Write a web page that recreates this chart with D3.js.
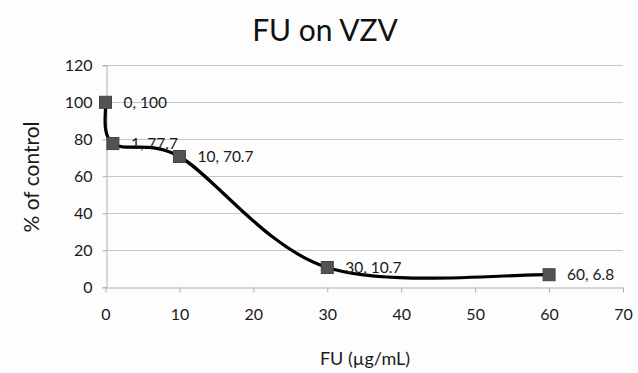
<!DOCTYPE html>
<html>
<head>
<meta charset="utf-8">
<script src="https://cdn.jsdelivr.net/npm/d3@7"></script>
<style>
  html, body { margin: 0; padding: 0; background: #fdfdfd; }
  svg { display: block; font-family: Lato, "Open Sans", sans-serif; }
</style>
</head>
<body>
<svg id="chart" width="638" height="373"></svg>
<script>
// FU concentration (µg/mL) and VZV response as % of control
const concentrations = [0, 1, 10, 30, 60];
const percentControl = [100, 77.7, 70.7, 10.7, 6.8];
const xTicks = [0, 10, 20, 30, 40, 50, 60, 70];
const yTicks = [0, 20, 40, 60, 80, 100, 120];

const data = concentrations.map((c, i) => ({ x: c, y: percentControl[i] }));

// Spreadsheet-style smoothing: cubic Béziers with 1/6 tangents,
// each tangent capped at half the length of its segment.
function SmoothCurve(context) { this._context = context; }
SmoothCurve.prototype = {
  areaStart() {}, areaEnd() {},
  lineStart() { this._pts = []; },
  point(x, y) { this._pts.push([+x, +y]); },
  lineEnd() {
    const p = this._pts, c = this._context, n = p.length;
    if (!n) return;
    c.moveTo(p[0][0], p[0][1]);
    const tangent = (a, b, limit) => {
      let tx = (b[0] - a[0]) / 6, ty = (b[1] - a[1]) / 6;
      const len = Math.hypot(tx, ty);
      if (len > limit && len > 0) { tx *= limit / len; ty *= limit / len; }
      return [tx, ty];
    };
    for (let i = 0; i < n - 1; i++) {
      const p0 = p[Math.max(i - 1, 0)], p1 = p[i], p2 = p[i + 1], p3 = p[Math.min(i + 2, n - 1)];
      const half = Math.hypot(p2[0] - p1[0], p2[1] - p1[1]) / 2;
      const t1 = tangent(p0, p2, half), t2 = tangent(p1, p3, half);
      c.bezierCurveTo(p1[0] + t1[0], p1[1] + t1[1], p2[0] - t2[0], p2[1] - t2[1], p2[0], p2[1]);
    }
  }
};
const curveSmooth = ctx => new SmoothCurve(ctx);

const svg = d3.select("#chart");
const margin = { left: 105.5, right: 15, top: 65.3, bottom: 85.7 };
const W = 638, H = 373;

const x = d3.scaleLinear().domain([0, 70]).range([margin.left, W - margin.right]);
const y = d3.scaleLinear().domain([0, 120]).range([H - margin.bottom, margin.top]);

// Title
svg.append("text")
  .attr("x", 325).attr("y", 41)
  .attr("text-anchor", "middle")
  .attr("font-size", 30)
  .attr("fill", "#111")
  .text("FU on VZV");

// Horizontal gridlines
svg.append("g")
  .selectAll("line")
  .data(yTicks.filter(d => d > 0))
  .join("line")
  .attr("x1", x(0)).attr("x2", x(70))
  .attr("y1", d => Math.round(y(d)) + 0.5).attr("y2", d => Math.round(y(d)) + 0.5)
  .attr("stroke", "#c6c6c6").attr("stroke-width", 1);

// Y axis
const yAxis = svg.append("g")
  .attr("transform", `translate(${Math.round(x(0)) + 0.5},0)`)
  .call(d3.axisLeft(y).tickValues(yTicks).tickSize(4).tickPadding(10).tickFormat(d3.format("d")));
yAxis.select(".domain").attr("stroke", "#b0b0b0");
yAxis.selectAll(".tick line").attr("stroke", "#b0b0b0");
yAxis.selectAll(".tick text").attr("font-size", 16).attr("fill", "#1a1a1a").attr("font-family", "Lato, sans-serif");

// X axis
const xAxis = svg.append("g")
  .attr("transform", `translate(0,${Math.round(y(0)) + 0.5})`)
  .call(d3.axisBottom(x).tickValues(xTicks).tickSize(5).tickSizeOuter(0).tickPadding(16).tickFormat(d3.format("d")));
xAxis.select(".domain").attr("stroke", "#b0b0b0");
xAxis.selectAll(".tick line").attr("stroke", "#b0b0b0");
xAxis.selectAll(".tick text").attr("font-size", 16).attr("fill", "#1a1a1a").attr("font-family", "Lato, sans-serif");

// Axis titles
svg.append("text")
  .attr("x", 365).attr("y", 365)
  .attr("text-anchor", "middle")
  .attr("font-size", 18)
  .attr("fill", "#1a1a1a")
  .text("FU (µg/mL)");

svg.append("text")
  .attr("transform", "translate(39,177) rotate(-90)")
  .attr("text-anchor", "middle")
  .attr("font-size", 21)
  .attr("fill", "#1a1a1a")
  .text("% of control");

// Smoothed response curve
const line = d3.line()
  .x(d => x(d.x)).y(d => y(d.y))
  .curve(curveSmooth);

svg.append("path")
  .datum(data)
  .attr("d", line)
  .attr("fill", "none")
  .attr("stroke", "#000")
  .attr("stroke-width", 3.2);

// Square markers
svg.append("g")
  .selectAll("rect")
  .data(data)
  .join("rect")
  .attr("x", d => x(d.x) - 6).attr("y", d => y(d.y) - 6)
  .attr("width", 12).attr("height", 12)
  .attr("fill", "#525252").attr("stroke", "#444").attr("stroke-width", 1);

// Point labels "x, y"
svg.append("g")
  .selectAll("text")
  .data(data)
  .join("text")
  .attr("x", d => x(d.x) + 18).attr("y", d => y(d.y))
  .attr("dy", "0.35em")
  .attr("font-size", 15.5)
  .attr("fill", "#1a1a1a")
  .text(d => `${d.x}, ${d.y}`);
</script>
</body>
</html>
